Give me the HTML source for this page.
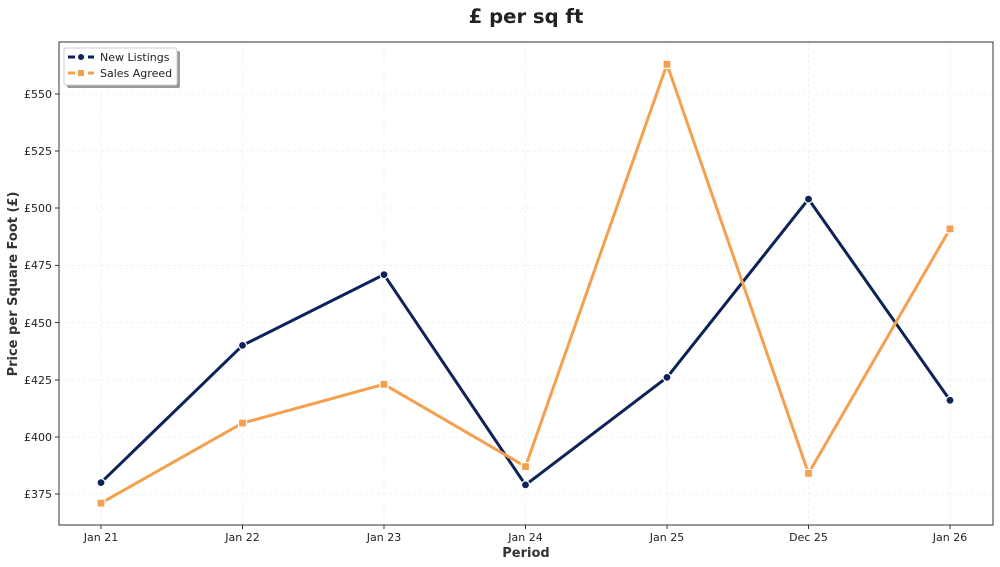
<!DOCTYPE html>
<html><head><meta charset="utf-8"><style>
body{margin:0;background:#fff;}
svg{display:block;font-family:"DejaVu Sans","Liberation Sans",sans-serif;}
</style></head><body>
<svg width="1000" height="567" viewBox="0 0 1000 567">
<rect width="1000" height="567" fill="#fff"/>
<text x="526" y="23" text-anchor="middle" font-size="19.6" font-weight="bold" fill="#222">£ per sq ft</text>
<g stroke="#ebebeb" stroke-dasharray="3,3" stroke-width="0.8">
<line x1="59" x2="993" y1="494" y2="494"/><line x1="59" x2="993" y1="437" y2="437"/>
<line x1="59" x2="993" y1="380" y2="380"/><line x1="59" x2="993" y1="322.6" y2="322.6"/>
<line x1="59" x2="993" y1="265.4" y2="265.4"/><line x1="59" x2="993" y1="208" y2="208"/>
<line x1="59" x2="993" y1="151" y2="151"/><line x1="59" x2="993" y1="94" y2="94"/>
<line y1="42" y2="525" x1="101" x2="101"/><line y1="42" y2="525" x1="242.5" x2="242.5"/>
<line y1="42" y2="525" x1="384" x2="384"/><line y1="42" y2="525" x1="525.5" x2="525.5"/>
<line y1="42" y2="525" x1="667" x2="667"/><line y1="42" y2="525" x1="808.5" x2="808.5"/>
<line y1="42" y2="525" x1="950" x2="950"/>
</g>
<rect x="59" y="42" width="934" height="483" fill="none" stroke="#333" stroke-width="1"/>
<g stroke="#333"><line x1="55" x2="59" y1="494" y2="494"/><line x1="55" x2="59" y1="437" y2="437"/><line x1="55" x2="59" y1="380" y2="380"/><line x1="55" x2="59" y1="322.6" y2="322.6"/><line x1="55" x2="59" y1="265.4" y2="265.4"/><line x1="55" x2="59" y1="208" y2="208"/><line x1="55" x2="59" y1="151" y2="151"/><line x1="55" x2="59" y1="94" y2="94"/>
<line y1="525" y2="529" x1="101" x2="101"/><line y1="525" y2="529" x1="242.5" x2="242.5"/><line y1="525" y2="529" x1="384" x2="384"/><line y1="525" y2="529" x1="525.5" x2="525.5"/><line y1="525" y2="529" x1="667" x2="667"/><line y1="525" y2="529" x1="808.5" x2="808.5"/><line y1="525" y2="529" x1="950" x2="950"/></g>
<g font-size="11" fill="#222" text-anchor="end">
<text x="52" y="498">£375</text><text x="52" y="441">£400</text><text x="52" y="384">£425</text><text x="52" y="327">£450</text><text x="52" y="269">£475</text><text x="52" y="212">£500</text><text x="52" y="155">£525</text><text x="52" y="98">£550</text>
</g>
<g font-size="11" fill="#222" text-anchor="middle">
<text x="101" y="541">Jan 21</text><text x="242.5" y="541">Jan 22</text><text x="384" y="541">Jan 23</text><text x="525.5" y="541">Jan 24</text><text x="667" y="541">Jan 25</text><text x="808.5" y="541">Dec 25</text><text x="950" y="541">Jan 26</text>
</g>
<text x="526" y="557" text-anchor="middle" font-size="13" font-weight="bold" fill="#333">Period</text>
<text transform="translate(17,284) rotate(-90)" text-anchor="middle" font-size="13" font-weight="bold" fill="#333">Price per Square Foot (£)</text>
<polyline fill="none" stroke="#0d2357" stroke-width="3" stroke-linejoin="round" points="101,482.6 242.5,345.4 384,274.6 525.5,484.9 667,377.4 808.5,199.1 950,400.3"/>
<g fill="#0d2357" stroke="#fff" stroke-width="1.2">
<circle cx="101" cy="482.6" r="4"/><circle cx="242.5" cy="345.4" r="4"/><circle cx="384" cy="274.6" r="4"/><circle cx="525.5" cy="484.9" r="4"/><circle cx="667" cy="377.4" r="4"/><circle cx="808.5" cy="199.1" r="4"/><circle cx="950" cy="400.3" r="4"/>
</g>
<polyline fill="none" stroke="#f4a04f" stroke-width="3" stroke-linejoin="round" points="101,503.1 242.5,423.1 384,384.3 525.5,466.6 667,64.3 808.5,473.4 950,228.9"/>
<g fill="#f4a04f" stroke="#fff" stroke-width="1.2">
<rect x="97" y="499.1" width="8" height="8"/><rect x="238.5" y="419.1" width="8" height="8"/><rect x="380" y="380.3" width="8" height="8"/><rect x="521.5" y="462.6" width="8" height="8"/><rect x="663" y="60.3" width="8" height="8"/><rect x="804.5" y="469.4" width="8" height="8"/><rect x="946" y="224.9" width="8" height="8"/>
</g>
<rect x="67" y="51" width="113" height="37" fill="#999" rx="2"/>
<rect x="64" y="48" width="113" height="37" fill="#fff" stroke="#ccc" rx="2"/>
<line x1="68" x2="94" y1="57" y2="57" stroke="#0d2357" stroke-width="3" stroke-dasharray="7,3"/>
<circle cx="81" cy="57" r="3.5" fill="#0d2357" stroke="#fff"/>
<line x1="68" x2="94" y1="73" y2="73" stroke="#f4a04f" stroke-width="3" stroke-dasharray="7,3"/>
<rect x="77.5" y="69.5" width="7" height="7" fill="#f4a04f" stroke="#fff"/>
<text x="100" y="61" font-size="11" fill="#222">New Listings</text>
<text x="100" y="77" font-size="11" fill="#222">Sales Agreed</text>
</svg>
</body></html>
